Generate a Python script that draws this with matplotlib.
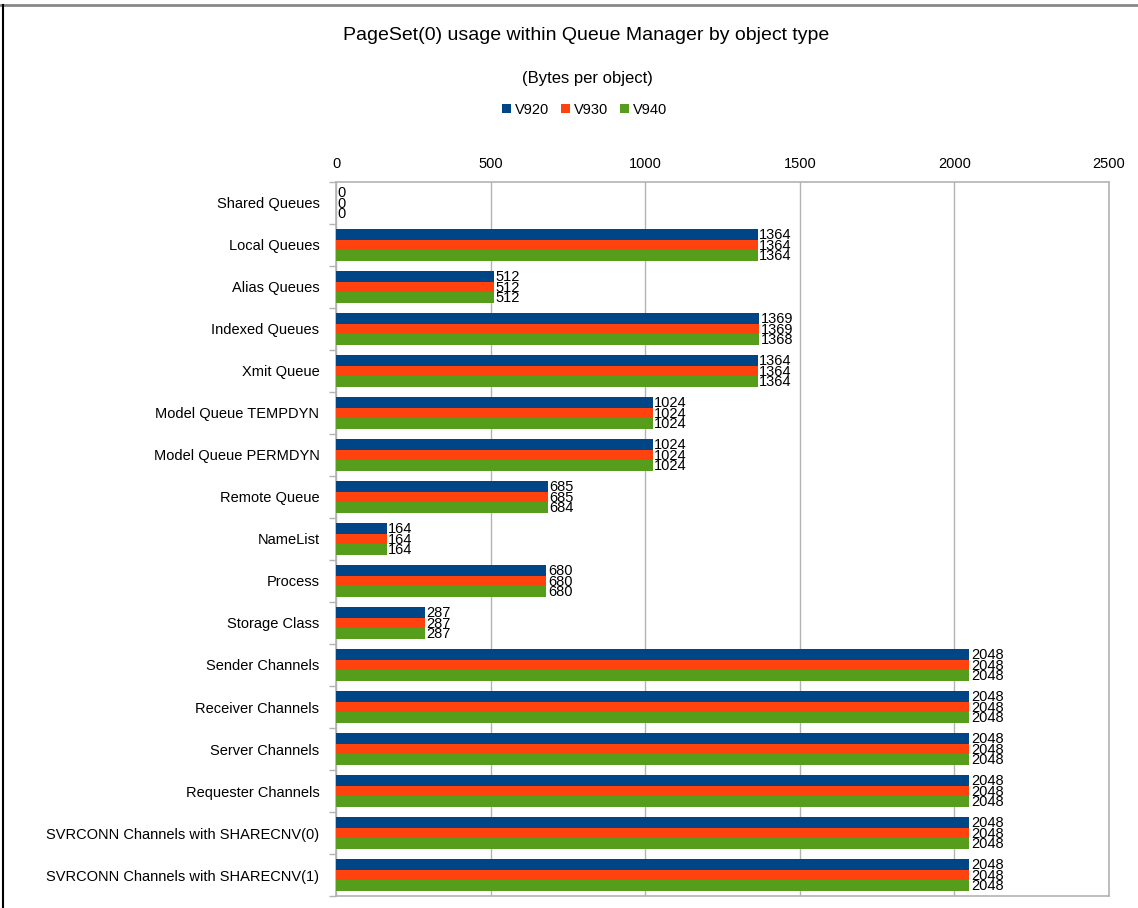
import numpy as np
import matplotlib.pyplot as plt
from matplotlib.lines import Line2D

plt.rcParams['font.family'] = ['Liberation Sans', 'DejaVu Sans']

categories = ['Shared Queues', 'Local Queues', 'Alias Queues', 'Indexed Queues',
              'Xmit Queue', 'Model Queue TEMPDYN', 'Model Queue PERMDYN',
              'Remote Queue', 'NameList', 'Process', 'Storage Class',
              'Sender Channels', 'Receiver Channels', 'Server Channels',
              'Requester Channels', 'SVRCONN Channels with SHARECNV(0)',
              'SVRCONN Channels with SHARECNV(1)']
v920 = [0, 1364, 512, 1369, 1364, 1024, 1024, 685, 164, 680, 287,
        2048, 2048, 2048, 2048, 2048, 2048]
v930 = [0, 1364, 512, 1369, 1364, 1024, 1024, 685, 164, 680, 287,
        2048, 2048, 2048, 2048, 2048, 2048]
v940 = [0, 1364, 512, 1368, 1364, 1024, 1024, 684, 164, 680, 287,
        2048, 2048, 2048, 2048, 2048, 2048]
series = [('V920', v920, '#004586'), ('V930', v930, '#ff420e'), ('V940', v940, '#579d1c')]

fig = plt.figure(figsize=(11.38, 9.08), dpi=100)
ax = fig.add_axes([0.2953, 0.0132, 0.6792, 0.7864])

y = np.arange(len(categories))
h = 0.25
for i, (name, vals, col) in enumerate(series):
    pos = y + (i - 1) * h
    ax.barh(pos, vals, height=h, color=col, label=name, zorder=3)
    for p, v in zip(pos, vals):
        ax.text(v + 5, p + 0.02, str(v), va='center', ha='left', fontsize=10.5,
                color='black', zorder=4, linespacing=1)

ax.set_xlim(0, 2500)
ax.set_ylim(len(categories) - 0.5, -0.5)
ax.set_xticks(range(0, 2501, 500))
ax.xaxis.tick_top()
ax.tick_params(axis='x', length=0, pad=8, labelsize=10.5)
ax.set_yticks(y)
ax.set_yticklabels(categories, fontsize=10.5)
ax.set_yticks(np.arange(len(categories) + 1) - 0.5, minor=True)
ax.tick_params(axis='y', which='major', length=0, pad=12)
ax.tick_params(axis='y', which='minor', length=5, color='#b3b3b3', width=1)
ax.grid(axis='x', color='#b3b3b3', linewidth=1, zorder=0)
for s in ax.spines.values():
    s.set_color('#b3b3b3')
    s.set_linewidth(1.2)

fig.text(0.515, 0.961, 'PageSet(0) usage within Queue Manager by object type',
         ha='center', va='center', fontsize=14)
fig.text(0.516, 0.913, '(Bytes per object)', ha='center', va='center', fontsize=12)
fig.legend(loc='center', bbox_to_anchor=(0.514, 0.879), ncol=3, frameon=False,
           fontsize=10.5, handlelength=0.6, handleheight=0.6, handletextpad=0.3,
           columnspacing=0.8)

# screenshot frame edges
fig.add_artist(Line2D([0, 1], [0.995, 0.995], color='#888888', linewidth=2,
                      transform=fig.transFigure))
fig.add_artist(Line2D([0.003, 0.003], [0, 0.995], color='black', linewidth=1.5,
                      transform=fig.transFigure))

fig.savefig('out.png', dpi=100)
